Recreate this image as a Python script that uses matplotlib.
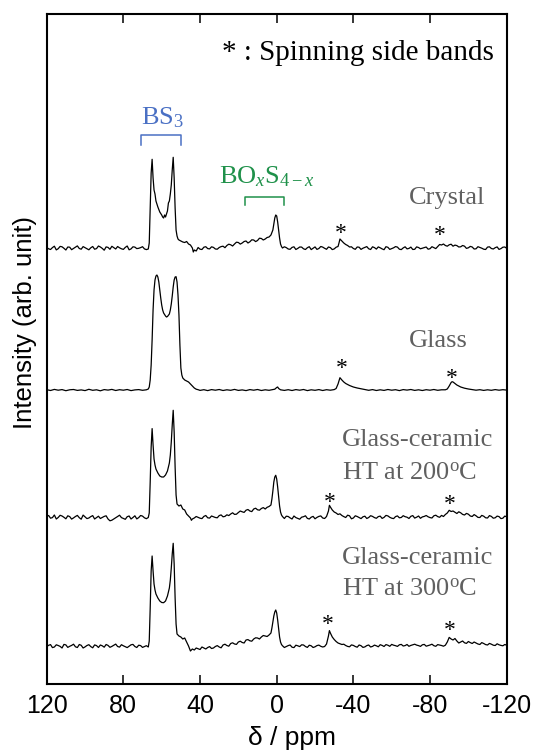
import matplotlib
matplotlib.use('Agg')
import matplotlib.pyplot as plt
import numpy as np

plt.rcParams['mathtext.fontset'] = 'custom'
plt.rcParams['mathtext.rm'] = 'Liberation Serif'
plt.rcParams['mathtext.it'] = 'Liberation Serif:italic'

# ---- spectra: (ppm, intensity above own baseline) ----
crystal = [
    (120, 0.5), (118, -1.5), (116, 1.8), (114, -0.7), (112, 1.2), (110, -2.0), (108, 0.8), (106, -0.4),
    (104, 2.1), (102, -1.2), (100, 0.3), (98, -1.8), (96, 1.5), (94, -0.6), (92, 1.0), (90, -2.2),
    (88, 0.6), (86, 1.7), (84, -1.0), (82, 0.2), (80, -1.4), (78, 2.0), (76, -0.9), (74, 0.9),
    (72, -0.3), (70, 1.3), (68, -1.6), (67, -1.0), (66.5, 5), (66, 40), (65.5, 75), (65, 88.7),
    (64.5, 70), (64, 58), (63.5, 54), (63, 47), (62, 41), (61, 36), (60, 33), (59.5, 31),
    (59, 30), (58.5, 33), (58, 31), (57, 37), (56.5, 45), (56, 47), (55.5, 54), (55, 63),
    (54.5, 78), (54, 90.7), (53.5, 70), (53, 40), (52.5, 18), (52, 12), (51.5, 9), (51, 8),
    (50, 7), (49, 6), (48, 5.5), (47, 6.5), (46, 4), (45, 3), (44, 0), (43.5, -4),
    (43, -2), (42, -3), (41, 0.5), (40, -1.2), (38, 0.8), (36, -0.6), (34, 1.2), (32, -1.0),
    (30, 0.5), (28, 1.8), (26, 2.5), (24, 3.2), (22, 4.0), (20, 5.5), (18, 5.0), (16, 7.0),
    (14, 6.2), (12, 8.0), (10, 7.5), (8, 9.5), (6, 9.0), (5, 10.5), (4, 11.0), (3, 13),
    (2, 18), (1.5, 24), (1, 30), (0.5, 33), (0, 32), (-0.5, 26), (-1, 18), (-1.5, 10),
    (-2, 4), (-2.5, 1.5), (-3, 0), (-4, 1.2), (-6, -1.0), (-8, 0.6), (-10, -1.5), (-12, 1.0),
    (-14, -0.8), (-16, 0.3), (-18, -1.6), (-20, 1.1), (-22, -0.5), (-24, 0.9), (-26, -1.3), (-28, 0.4),
    (-30, -0.9), (-31, 0.8), (-32, 1.5), (-32.5, 5), (-33, 9), (-34, 7), (-35, 5), (-36, 3.5),
    (-37, 2.5), (-38, 1), (-40, -0.5), (-42, 1.0), (-44, -1.4), (-46, 0.6), (-48, -0.8), (-50, 1.2),
    (-52, -1.1), (-54, 0.2), (-56, -1.7), (-58, 0.7), (-60, -0.6), (-62, 1.4), (-64, -1.2), (-66, 0.1),
    (-68, -0.9), (-70, 0.9), (-72, -1.3), (-74, 0.5), (-76, -0.2), (-78, 1.0), (-80, -0.7), (-82, 0.4),
    (-84, 1.5), (-85, 3.5), (-86, 3.0), (-88, 2.5), (-90, 3.2), (-92, 1.8), (-94, 2.4), (-96, 1.2),
    (-98, 1.8), (-100, 0.2), (-102, 1.0), (-104, -0.8), (-106, 0.6), (-108, -1.2), (-110, 0.9), (-112, -0.5),
    (-114, 0.3), (-116, -1.4), (-118, 0.8), (-120, -0.3),
]
# extra baseline readings between the points above (noise)
crystal_noise = [
    (119, -0.8), (117, 0.4), (115, -1.9), (113, 1.6), (111, -0.3), (109, 1.0), (107, -1.7), (105, 0.9),
    (103, -0.5), (101, 1.4), (99, -0.9), (97, 0.2), (95, -1.2), (93, 2.0), (91, -0.4), (89, 1.1),
    (87, -1.3), (85, 0.3), (83, 1.5), (81, -0.8), (79, 0.6), (77, -1.8), (75, 1.2), (73, -0.6),
    (71, 0.4), (69, -0.9),
    (39, -1.5), (37, 1.3), (35, -0.9), (33, 0.6), (31, -1.2), (29, 1.4), (27, 0.3), (25, 3.8),
    (23, 2.0), (21, 5.8), (19, 3.9), (17, 6.5), (15, 5.0), (13, 8.2), (11, 6.4), (9, 9.8), (7, 8.0),
    (-5, 0.4), (-7, -1.3), (-9, 1.2), (-11, -0.4), (-13, 0.9), (-15, -1.5), (-17, 1.3), (-19, -0.2),
    (-21, -1.4), (-23, 1.5), (-25, -0.3), (-27, 1.0), (-29, -1.6),
    (-39, 1.2), (-41, -1.3), (-43, 0.8), (-45, -0.2), (-47, 1.4), (-49, -1.5), (-51, 0.4), (-53, 1.1),
    (-55, -0.9), (-57, 1.3), (-59, -1.4), (-61, 0.2), (-63, 0.9), (-65, -1.6), (-67, 1.2), (-69, -0.4),
    (-71, -1.5), (-73, 1.1), (-75, -0.8), (-77, 0.5), (-79, -1.2), (-81, 1.3), (-83, -0.6),
    (-87, 4.0), (-89, 1.8), (-91, 3.8), (-93, 2.9), (-95, 1.0), (-97, 2.5), (-99, -0.4), (-101, 1.6),
    (-103, -1.0), (-105, 1.3), (-107, -0.2), (-109, -1.5), (-111, 1.2), (-113, -1.0), (-115, 1.1),
    (-117, -0.6), (-119, 1.0),
]

glass = [
    (120, 0.3), (118, -0.5), (116, 0.6), (114, -0.2), (112, 0.4), (110, -0.7), (108, 0.2), (106, 0.5),
    (104, -0.4), (102, 0.1), (100, -0.6), (98, 0.7), (96, -0.3), (94, 0.2), (92, -0.8), (90, 0.4),
    (88, -0.1), (86, 0.6), (84, -0.5), (82, 0.3), (80, -0.2), (78, 0.5), (76, -0.6), (74, 0.1),
    (72, 0.4), (70, -0.3), (68, 0.2), (67, 1.0), (66.5, 3), (66, 10), (65.5, 25), (65, 50),
    (64.5, 80), (64, 100), (63.5, 110), (63, 114), (62.5, 115), (62, 113), (61.5, 108), (61, 100),
    (60.5, 92), (60, 85), (59.5, 80), (59, 77), (58, 74), (57.5, 73), (57, 73.5), (56, 76),
    (55.5, 80), (55, 86), (54.5, 94), (54, 103), (53.5, 110), (53, 113), (52.5, 113.3), (52, 108),
    (51.5, 95), (51, 75), (50.5, 45), (50, 22), (49.5, 15), (49, 12), (48, 10), (47, 9),
    (46, 8), (45, 6), (44, 4), (43, 2), (42, 0.8), (41, 0.3), (40, -0.4), (38, 0.3),
    (36, -0.6), (34, 0.4), (32, -0.2), (30, 0.5), (28, -0.5), (26, 0.2), (24, -0.3), (22, 0.6),
    (20, -0.4), (18, 0.1), (16, -0.6), (14, 0.4), (12, -0.2), (10, 0.5), (8, -0.5), (6, 0.2),
    (4, -0.3), (2, 0.4), (1, 0.8), (0, 2.5), (-0.5, 3.0), (-1, 1.5), (-2, 0.2), (-4, -0.4),
    (-6, 0.3), (-8, -0.5), (-10, 0.4), (-12, -0.2), (-14, 0.5), (-16, -0.6), (-18, 0.2), (-20, -0.3),
    (-22, 0.4), (-24, -0.5), (-26, 0.3), (-28, -0.2), (-30, 0.4), (-31, 1.5), (-32, 6), (-33, 12.3),
    (-34, 10), (-35, 8), (-36, 6.5), (-38, 4.5), (-40, 3), (-42, 2), (-44, 1.2), (-46, 0.5),
    (-48, -0.3), (-50, 0.4), (-52, -0.5), (-54, 0.2), (-56, -0.4), (-58, 0.5), (-60, -0.2), (-62, 0.3),
    (-64, -0.6), (-66, 0.4), (-68, -0.1), (-70, 0.5), (-72, -0.4), (-74, 0.2), (-76, -0.5), (-78, 0.3),
    (-80, -0.2), (-82, 0.5), (-84, -0.3), (-86, 0.2), (-88, 0.2), (-89, 1.0), (-90, 4.0), (-91, 7.5),
    (-91.5, 8.3), (-92, 8.0), (-93, 6.5), (-94, 5.0), (-96, 3.0), (-98, 1.8), (-100, 1.0), (-102, 0.4),
    (-104, -0.2), (-106, 0.3), (-108, -0.4), (-110, 0.2), (-112, -0.3), (-114, 0.4), (-116, -0.2), (-118, 0.3),
    (-120, -0.1),
]

gc200 = [
    (120, 0.8), (118, -1.2), (116, 2.0), (114, -0.5), (112, 1.0), (110, -1.8), (108, 0.4), (106, -0.9),
    (104, 1.6), (102, -2.2), (100, 0.2), (98, -1.0), (96, 1.4), (94, -0.6), (92, -1.5), (90, 0.6),
    (88, -2.0), (86, -3.2), (84, -0.8), (82, 1.8), (80, -1.4), (78, 0.3), (76, -2.0), (74, 1.2),
    (72, -0.6), (70, 0.9), (68, -1.7), (67, -0.5), (66.5, 4), (66, 35), (65.5, 70), (65, 88.4),
    (64.5, 72), (64, 58), (63.5, 52), (63, 48), (62, 44), (61, 41), (60, 40), (59, 40),
    (58, 42), (57, 46), (56, 54), (55.5, 62), (55, 75), (54.5, 92), (54, 106.7), (53.5, 85),
    (53, 50), (52.5, 22), (52, 13), (51, 11), (50, 12), (49, 8), (48, 7), (47, 3),
    (46, 1), (45, -1), (44.5, -3.3), (44, -2), (43, -1), (42, 0.5), (40, -1.2), (38, 0.6),
    (36, -0.8), (34, 1.0), (32, -0.5), (30, 1.4), (28, 0.2), (26, 2.2), (24, 3.0), (22, 2.6),
    (20, 4.5), (18, 5.2), (16, 6.8), (14, 6.0), (12, 8.0), (10, 7.2), (8, 8.5), (6, 8.0),
    (5, 9.7), (4, 10.5), (3, 12), (2.5, 18), (2, 26), (1.5, 35), (1, 40), (0.5, 41.7),
    (0, 38), (-0.5, 30), (-1, 20), (-1.5, 11), (-2, 5), (-2.5, 2), (-3, 0.5), (-4, -1.5),
    (-6, 0.5), (-8, -2.0), (-10, -0.6), (-12, -2.2), (-14, 0.3), (-16, -1.4), (-18, -0.2), (-20, -1.8),
    (-22, 0.6), (-24, -1.0), (-25, -1.5), (-26, 0.5), (-27, 6), (-27.5, 11.7), (-28, 10), (-29, 7),
    (-30, 5), (-31, 4), (-32, 2.5), (-34, 1.5), (-36, -0.5), (-38, 1.2), (-40, -1.0), (-42, 0.5),
    (-44, -1.6), (-46, 0.8), (-48, -0.5), (-50, 0.6), (-52, -1.3), (-54, 0.9), (-56, -0.4), (-58, 1.1),
    (-60, -1.2), (-62, 0.4), (-64, -0.8), (-66, 1.3), (-68, -0.2), (-70, 0.7), (-72, -1.1), (-74, 1.0),
    (-76, 0.1), (-78, 1.5), (-80, -0.6), (-82, 1.2), (-84, 0.4), (-86, 1.6), (-88, 2.5), (-89, 4.0),
    (-90, 6.7), (-91, 5.5), (-92, 6.0), (-94, 3.5), (-96, 4.2), (-98, 2.0), (-100, 2.8), (-102, 0.5),
    (-104, 1.2), (-106, -0.5), (-108, 0.8), (-110, -1.0), (-112, 0.6), (-114, -0.8), (-116, 0.4), (-118, -1.2),
    (-120, 0.2),
]
gc200_noise = [
    (119, 1.5), (117, -0.6), (115, -2.0), (113, 1.7), (111, -0.3), (109, 1.2), (107, -2.1), (105, 0.5),
    (103, -0.7), (101, 1.9), (99, -1.6), (97, 0.4), (95, -2.0), (93, 0.8), (91, -0.4), (89, 1.2),
    (87, -3.8), (85, -2.0), (83, 0.5), (81, -0.6), (79, -2.3), (77, 1.0), (75, -0.5), (73, -1.9),
    (71, 1.5), (69, -0.8),
    (39, -1.6), (37, 1.5), (35, -1.1), (33, 0.3), (31, -0.8), (29, 2.1), (27, 0.6), (25, 1.4),
    (23, 4.2), (21, 2.8), (19, 6.0), (17, 4.6), (15, 7.5), (13, 5.4), (11, 8.8), (9, 6.8), (7, 9.4),
    (-5, 0.8), (-7, -0.9), (-9, 1.0), (-11, -1.4), (-13, -0.2), (-15, 1.2), (-17, -2.0), (-19, 0.6),
    (-21, -0.4), (-23, 1.1),
    (-33, 3.2), (-35, 0.4), (-37, 1.8), (-39, -1.8), (-41, 1.2), (-43, -0.6), (-45, 0.2), (-47, -1.5),
    (-49, 1.3), (-51, -0.6), (-53, 0.4), (-55, -1.4), (-57, 1.6), (-59, -0.3), (-61, -1.6), (-63, 1.1),
    (-65, -0.5), (-67, 0.3), (-69, -1.5), (-71, 1.4), (-73, -0.2), (-75, -1.3), (-77, 0.6), (-79, 0.2),
    (-81, -1.0), (-83, 1.8), (-85, -0.3), (-87, 0.5),
    (-93, 4.8), (-95, 5.2), (-97, 2.6), (-99, 3.6), (-101, 1.0), (-103, 2.4), (-105, -0.4), (-107, 1.6),
    (-109, -0.8), (-111, 1.4), (-113, -1.2), (-115, 0.9), (-117, -1.6), (-119, 0.9),
]

gc300 = [
    (120, -0.6), (118, 1.4), (116, -1.0), (114, 0.5), (112, -2.0), (110, 1.1), (108, -0.3), (106, 1.8),
    (104, -1.5), (102, 0.7), (100, -0.9), (98, 1.3), (96, -1.8), (94, 0.4), (92, 1.0), (90, -1.2),
    (88, 0.6), (86, -0.4), (84, 1.9), (82, -1.1), (80, 0.2), (78, -1.6), (76, 1.2), (74, -0.5),
    (72, 0.8), (70, -1.4), (68, 0.3), (67, -1.0), (66.5, 5), (66, 38), (65.5, 75), (65, 90),
    (64.5, 75), (64, 62), (63.5, 56), (63, 52), (62, 48), (61, 45), (60, 43.5), (59, 43.3),
    (58, 45), (57, 50), (56, 58), (55.5, 66), (55, 78), (54.5, 92), (54, 102.7), (53.5, 82),
    (53, 48), (52.5, 22), (52, 12), (51, 10), (50, 9), (49, 7), (48, 8), (47, 4),
    (46, 0), (45, -5), (44, -3), (43, -4), (42, -2), (40, -3.5), (38, -2), (36, -1.5),
    (34, -2.5), (32, -0.5), (30, -1), (28, 1), (26, 0.5), (24, 2.5), (22, 2), (20, 4),
    (18, 3.5), (16, 6), (14, 5.2), (12, 7), (10, 8), (8, 9), (6, 10), (5, 9.5),
    (4, 11), (3, 13), (2.5, 18), (2, 24), (1.5, 30), (1, 34), (0.5, 36), (0, 33),
    (-0.5, 26), (-1, 17), (-1.5, 9), (-2, 4), (-2.5, 1.5), (-3, 0.3), (-4, -1.5), (-6, 0.4),
    (-8, -1.2), (-10, 0.8), (-12, -0.6), (-14, 1.0), (-16, -1.4), (-18, 0.2), (-20, -0.8), (-22, 0.9),
    (-24, -1.0), (-25, -0.5), (-26, 2), (-27, 10), (-27.5, 15.4), (-28, 13), (-29, 9), (-30, 6.5),
    (-31, 4.5), (-32, 3), (-34, 1.5), (-36, 0.5), (-38, -0.8), (-40, 0.6), (-42, -1.2), (-44, 0.3),
    (-46, -0.9), (-48, 1.0), (-50, -0.4), (-52, 0.2), (-54, 1.3), (-56, -0.5), (-58, 0.8), (-60, 1.6),
    (-62, 0.3), (-64, 1.2), (-66, 0.0), (-68, 1.5), (-70, 0.6), (-72, 1.8), (-74, 0.4), (-76, 1.2),
    (-78, -0.2), (-80, 1.0), (-82, 0.3), (-84, 1.4), (-86, 0.5), (-88, 0.8), (-89, 4), (-90, 8.6),
    (-91, 7), (-92, 6), (-93, 7.5), (-94, 5), (-96, 4), (-98, 3.2), (-100, 4.5), (-102, 2.5),
    (-104, 3), (-106, 1.5), (-108, 2.5), (-110, 1.0), (-112, 1.8), (-114, 0.5), (-116, 1.2), (-118, 0.2),
    (-120, 0.8),
]
gc300_noise = [
    (119, 0.7), (117, -1.6), (115, 1.2), (113, -0.4), (111, 1.6), (109, -1.4), (107, 0.6), (105, -0.8),
    (103, 1.5), (101, -2.0), (99, 0.5), (97, -0.6), (95, 1.1), (93, -1.5), (91, 0.2), (89, 1.5),
    (87, -1.3), (85, 0.8), (83, -0.5), (81, 1.3), (79, -0.7), (77, -0.2), (75, 1.6), (73, -1.5),
    (71, 0.4), (69, -0.6),
    (39, -1.0), (37, -3.0), (35, -0.6), (33, -2.0), (31, 0.4), (29, -1.8), (27, 1.8), (25, -0.2),
    (23, 3.2), (21, 1.6), (19, 4.8), (17, 3.0), (15, 6.4), (13, 4.8), (11, 8.2), (9, 7.0), (7, 10.5),
    (-5, -0.6), (-7, 1.0), (-9, -1.6), (-11, 0.2), (-13, 1.2), (-15, -0.5), (-17, 0.8), (-19, -1.5),
    (-21, 0.4), (-23, -0.3),
    (-33, 2.2), (-35, 1.8), (-37, -0.4), (-39, 1.1), (-41, -0.5), (-43, 1.0), (-45, -1.4), (-47, 0.4),
    (-49, -1.0), (-51, 0.9), (-53, -0.8), (-55, 0.6), (-57, 1.4), (-59, -0.3), (-61, 0.8), (-63, -0.4),
    (-65, 1.6), (-67, 0.4), (-69, -0.3), (-71, 1.2), (-73, 0.9), (-75, -0.4), (-77, 1.6), (-79, 0.4),
    (-81, 1.8), (-83, -0.3), (-85, 1.0), (-87, -0.2),
    (-95, 3.0), (-97, 5.0), (-99, 2.6), (-101, 3.4), (-103, 4.0), (-105, 2.0), (-107, 3.4), (-109, 1.4),
    (-111, 2.6), (-113, 0.8), (-115, 2.2), (-117, 0.6), (-119, 1.5),
]

spectra = [crystal + crystal_noise, glass, gc200 + gc200_noise, gc300 + gc300_noise]
baselines = [436, 294, 167, 38]   # vertical stacking offsets

# sample labels: (lines, x ppm, baseline y of each line)
sample_labels = [
    (['Crystal'], -68.7, [480]),
    (['Glass'], -69.2, [337]),
    (['Glass-ceramic', 'HT at 200$^{\\mathrm{o}}$C'], -33.9, [238, 204.5]),
    (['Glass-ceramic', 'HT at 300$^{\\mathrm{o}}$C'], -33.9, [120.5, 88]),
]
# spinning side band markers (ppm, centre y)
ssb_marks = [(-33.4, 456), (-85.2, 454), (-33.9, 321), (-91.5, 311),
             (-27.8, 187), (-90.4, 185), (-26.7, 65), (-90.4, 58.5)]

xticks = [120, 80, 40, 0, -40, -80, -120]
xticklabels = ['120', '80', '40', '0', '-40', '-80', '-120']

W, H = 533, 752
fig = plt.figure(figsize=(W / 100, H / 100), dpi=100)
ax = fig.add_axes([46.7 / W, 68 / H, 460 / W, 670 / H])

for data, base in zip(spectra, baselines):
    data = sorted(data, key=lambda p: -p[0])
    ppm, inten = np.array(data).T
    ax.plot(ppm, inten + base, color='black', lw=0.9)

ax.set_xlim(120, -120)
ax.set_ylim(0, 670)
ax.set_yticks([])
ax.set_xticks(xticks)
ax.set_xticklabels(xticklabels, family='Liberation Sans', fontsize=18)
ax.tick_params(axis='x', direction='in', top=True, length=6.5, width=1.1, pad=7)
for sp in ax.spines.values():
    sp.set_linewidth(1.5)

serif = 'Liberation Serif'
gray = '#606060'
for lines, x, ys in sample_labels:
    for txt, y in zip(lines, ys):
        ax.text(x, y, txt, family=serif, fontsize=19, color=gray, ha='left', va='baseline')

for x, y in ssb_marks:
    ax.text(x, y - 11, '*', family=serif, fontsize=17, color='black', ha='center', va='baseline')

ax.text(-113.4, 624, '* : Spinning side bands', family=serif, fontsize=21,
        ha='right', va='baseline')

# assignment brackets
blue = '#4a70c4'
green = '#1f914a'
ax.plot([70.8, 70.8, 50.1, 50.1], [539, 549, 549, 539], color=blue, lw=1.1)
ax.text(59.8, 560, 'BS$_3$', family=serif, fontsize=19, color=blue, ha='center', va='baseline')
ax.plot([16.5, 16.5, -3.8, -3.8], [479, 487.3, 487.3, 479], color=green, lw=1.1)
ax.text(5.2, 501, 'BO$_x$S$_{4-x}$', family=serif, fontsize=19, color=green,
        ha='center', va='baseline')

fig.text(25 / W, 1 - 322.5 / H, 'Intensity (arb. unit)', family='Liberation Sans',
         fontsize=18.5, rotation=90, ha='center', va='center')
fig.text(292 / W, 1 - 738 / H, '\u03b4 / ppm', family='Liberation Sans', fontsize=19,
         ha='center', va='center')

fig.savefig('out.png', dpi=100)
